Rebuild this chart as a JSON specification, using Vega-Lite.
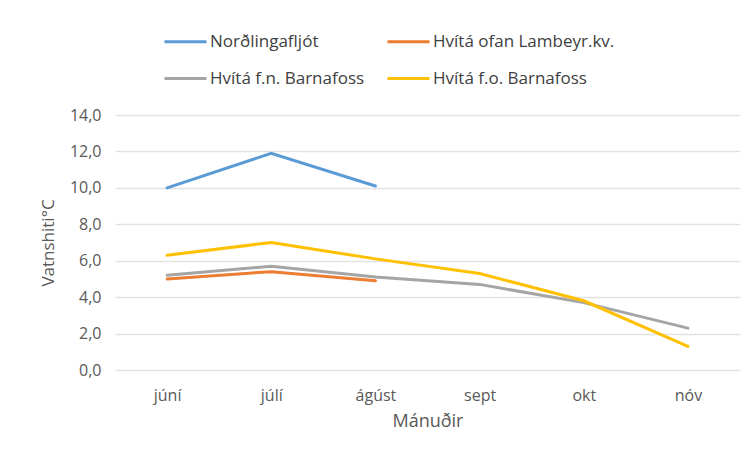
{
  "$schema": "https://vega.github.io/schema/vega-lite/v6.json",
  "width": 625,
  "height": 255,
  "autosize": {"type": "none"},
  "padding": {"left": 115, "top": 115, "right": 14, "bottom": 86},
  "background": "white",
  "data": {"values": [
    {"m": "júní", "s": "Norðlingafljót", "v": 10.0},
    {"m": "júlí", "s": "Norðlingafljót", "v": 11.9},
    {"m": "ágúst", "s": "Norðlingafljót", "v": 10.1},
    {"m": "júní", "s": "Hvítá ofan Lambeyr.kv.", "v": 5.0},
    {"m": "júlí", "s": "Hvítá ofan Lambeyr.kv.", "v": 5.4},
    {"m": "ágúst", "s": "Hvítá ofan Lambeyr.kv.", "v": 4.9},
    {"m": "júní", "s": "Hvítá f.n. Barnafoss", "v": 5.2},
    {"m": "júlí", "s": "Hvítá f.n. Barnafoss", "v": 5.7},
    {"m": "ágúst", "s": "Hvítá f.n. Barnafoss", "v": 5.1},
    {"m": "sept", "s": "Hvítá f.n. Barnafoss", "v": 4.7},
    {"m": "okt", "s": "Hvítá f.n. Barnafoss", "v": 3.7},
    {"m": "nóv", "s": "Hvítá f.n. Barnafoss", "v": 2.3},
    {"m": "júní", "s": "Hvítá f.o. Barnafoss", "v": 6.3},
    {"m": "júlí", "s": "Hvítá f.o. Barnafoss", "v": 7.0},
    {"m": "ágúst", "s": "Hvítá f.o. Barnafoss", "v": 6.1},
    {"m": "sept", "s": "Hvítá f.o. Barnafoss", "v": 5.3},
    {"m": "okt", "s": "Hvítá f.o. Barnafoss", "v": 3.8},
    {"m": "nóv", "s": "Hvítá f.o. Barnafoss", "v": 1.3}
  ]},
  "mark": {"type": "line", "strokeWidth": 3, "strokeCap": "round"},
  "encoding": {
    "x": {
      "field": "m", "type": "nominal",
      "sort": ["júní", "júlí", "ágúst", "sept", "okt", "nóv"],
      "scale": {"type": "point", "padding": 0.5},
      "axis": {"title": "Mánuðir", "labelAngle": 0, "domain": false, "ticks": false, "grid": false, "labelPadding": 17, "titlePadding": 9, "titleFontSize": 18}
    },
    "y": {
      "field": "v", "type": "quantitative",
      "scale": {"domain": [0, 14]},
      "axis": {"title": "Vatnshiti°C", "values": [0, 2, 4, 6, 8, 10, 12, 14], "labelExpr": "replace(format(datum.value, '.1f'), '.', ',')", "domain": false, "ticks": false, "labelPadding": 14, "titlePadding": 12, "titleFontSize": 17, "gridColor": "#e2e2e2", "gridWidth": 1.3}
    },
    "color": {
      "field": "s", "type": "nominal",
      "sort": ["Norðlingafljót", "Hvítá ofan Lambeyr.kv.", "Hvítá f.n. Barnafoss", "Hvítá f.o. Barnafoss"],
      "scale": {
        "domain": ["Norðlingafljót", "Hvítá ofan Lambeyr.kv.", "Hvítá f.n. Barnafoss", "Hvítá f.o. Barnafoss"],
        "range": ["#5B9BD5", "#ED7D31", "#A5A5A5", "#FFC000"]
      },
      "legend": {
        "title": null, "orient": "none", "legendX": 48, "legendY": -96,
        "direction": "horizontal",
        "columns": 2, "gridAlign": "each", "columnPadding": 16, "rowPadding": 6,
        "symbolType": "stroke", "symbolSize": 1764, "symbolStrokeWidth": 3,
        "labelOffset": 2, "labelFontSize": 17, "labelColor": "#404040", "labelLimit": 300
      }
    }
  },
  "config": {
    "font": "Open Sans",
    "view": {"stroke": null},
    "axis": {"labelFont": "Open Sans", "titleFont": "Open Sans", "labelFontSize": 16, "titleFontWeight": "normal", "labelColor": "#595959", "titleColor": "#595959"},
    "legend": {"labelFont": "Open Sans"}
  }
}
